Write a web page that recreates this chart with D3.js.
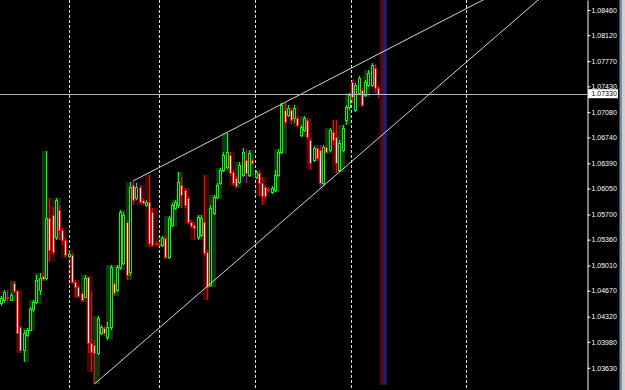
<!DOCTYPE html>
<html>
<meta charset="utf-8">
<head>
<script src="https://d3js.org/d3.v7.min.js"></script>
<title>eurusd channel</title>
<style>
html, body {
	margin: 0;
	padding: 0;
	background: #000;
}
svg {
	display: block;
}
</style>
</head>
<body>
	<svg id="chart"></svg>
<script>
var width = 625;
var height = 390;
var plotRight = 587;

// bars, oldest first
var open = [1.04505,1.04545,1.04586,1.04545,1.04775,1.04667,1.04181,1.03870,1.04073,1.04140,
	1.04424,1.04518,1.04680,1.04869,1.04842,1.05652,1.05693,1.05396,1.05760,1.05490,
	1.05355,1.05139,1.05153,1.04788,1.04721,1.04640,1.04586,1.04856,1.03965,1.03938,
	1.03830,1.04100,1.04167,1.04046,1.04181,1.04775,1.04680,1.04991,1.05045,1.05598,
	1.04923,1.06098,1.05922,1.06071,1.05895,1.05828,1.05868,1.05733,1.05315,1.05301,
	1.05288,1.05382,1.05126,1.05558,1.05787,1.05828,1.06098,1.06030,1.05922,1.05598,
	1.05558,1.05396,1.05423,1.05598,1.05193,1.04748,1.05720,1.05936,1.06125,1.06300,
	1.06341,1.06503,1.06273,1.06192,1.06138,1.06233,1.06435,1.06233,1.06435,1.06206,
	1.06260,1.06125,1.06071,1.06044,1.06003,1.06030,1.06233,1.06543,1.07110,1.07043,
	1.07110,1.07002,1.07002,1.06773,1.06840,1.06975,1.06705,1.06435,1.06597,1.06570,
	1.06125,1.06611,1.06570,1.06813,1.06746,1.06300,1.06570,1.06975,1.07151,1.07488,
	1.07110,1.07340,1.07380,1.07313,1.07448,1.07448,1.07677,1.07407];
var high = [1.04599,1.04680,1.04680,1.04640,1.04802,1.04680,1.04194,1.04140,1.04167,1.04451,
	1.04545,1.04883,1.04910,1.04923,1.06557,1.05922,1.05801,1.05922,1.05828,1.05517,
	1.05382,1.05220,1.05180,1.04815,1.04748,1.04667,1.04883,1.04869,1.04653,1.04005,
	1.04329,1.04208,1.04194,1.04248,1.05018,1.04815,1.05018,1.05760,1.05733,1.05625,
	1.06138,1.06152,1.06125,1.06098,1.05922,1.05895,1.06233,1.05787,1.05342,1.05328,
	1.05409,1.05409,1.05679,1.05855,1.05895,1.06273,1.06206,1.06057,1.05949,1.05625,
	1.05585,1.05693,1.05693,1.06233,1.05220,1.05828,1.05963,1.06125,1.06327,1.06543,
	1.06800,1.06543,1.06300,1.06219,1.06408,1.06597,1.06570,1.06570,1.06462,1.06300,
	1.06300,1.06206,1.06098,1.06071,1.06084,1.06300,1.06584,1.07205,1.07205,1.07178,
	1.07137,1.07178,1.07029,1.06908,1.07029,1.07002,1.06732,1.06624,1.06638,1.06638,
	1.06638,1.06638,1.06867,1.06975,1.06975,1.06705,1.06908,1.07178,1.07340,1.07515,
	1.07475,1.07569,1.07407,1.07515,1.07650,1.07745,1.07731,1.07434];
var low = [1.04464,1.04505,1.04518,1.04532,1.04640,1.04086,1.03830,1.03708,1.04046,1.04127,
	1.04383,1.04491,1.04613,1.04802,1.04815,1.05058,1.05153,1.05355,1.05355,1.05288,
	1.05112,1.05112,1.04761,1.04586,1.04572,1.04518,1.04572,1.03830,1.03573,1.03411,
	1.03803,1.04073,1.04059,1.04005,1.04140,1.04599,1.04653,1.04950,1.05018,1.04815,
	1.04869,1.05828,1.05895,1.05841,1.05828,1.05801,1.05261,1.05261,1.05274,1.05274,
	1.05261,1.05099,1.05099,1.05531,1.05760,1.05787,1.05787,1.05787,1.05571,1.05517,
	1.05355,1.05355,1.05396,1.05139,1.04545,1.04721,1.05693,1.05909,1.06098,1.06273,
	1.06314,1.06219,1.06084,1.06057,1.06111,1.06206,1.06125,1.06206,1.06368,1.06179,
	1.05949,1.05828,1.05909,1.06003,1.05976,1.06003,1.06206,1.06516,1.06908,1.07016,
	1.06921,1.06935,1.06881,1.06746,1.06813,1.06705,1.06300,1.06408,1.06422,1.06071,
	1.06098,1.06516,1.06543,1.06638,1.06260,1.06273,1.06543,1.06908,1.07110,1.07205,
	1.07083,1.07313,1.07151,1.07286,1.07421,1.07421,1.07340,1.07272];
var close = [1.04572,1.04653,1.04572,1.04613,1.04667,1.04100,1.03870,1.04100,1.04140,1.04424,
	1.04518,1.04815,1.04842,1.04829,1.05652,1.05220,1.05193,1.05895,1.05490,1.05355,
	1.05153,1.05166,1.04788,1.04721,1.04599,1.04545,1.04842,1.03965,1.03843,1.03830,
	1.04302,1.04181,1.04100,1.04181,1.04991,1.04640,1.04991,1.05733,1.05693,1.04883,
	1.06071,1.05895,1.06071,1.05868,1.05855,1.05868,1.05315,1.05288,1.05301,1.05288,
	1.05382,1.05126,1.05652,1.05828,1.05868,1.06138,1.05963,1.05828,1.05598,1.05544,
	1.05517,1.05666,1.05652,1.05180,1.04721,1.05787,1.05936,1.06098,1.06300,1.06503,
	1.06543,1.06260,1.06125,1.06084,1.06368,1.06543,1.06260,1.06530,1.06395,1.06273,
	1.06125,1.05949,1.05949,1.06030,1.06057,1.06233,1.06543,1.07178,1.06948,1.07137,
	1.06975,1.07137,1.06908,1.06881,1.07002,1.06746,1.06395,1.06597,1.06462,1.06125,
	1.06611,1.06543,1.06840,1.06705,1.06395,1.06665,1.06867,1.07151,1.07313,1.07286,
	1.07448,1.07542,1.07178,1.07488,1.07610,1.07718,1.07407,1.07330];

var priceTicks = ["1.08460","1.08120","1.07770","1.07430","1.07080","1.06740","1.06390","1.06050",
	"1.05700","1.05360","1.05010","1.04670","1.04320","1.03980","1.03630"];
var lastPrice = 1.07330;

// period separators and the shifted future zone, in bar units
var separators = [21, 48.9, 78.8, 108.5, 144.2];
var futureBand = [117.3, 119.8];

// trend lines: two anchors each [bar, price], drawn as rays
var upperLine = [[41, 1.06152], [109, 1.07682]];
var lowerLine = [[29, 1.03411], [117, 1.06724]];

var x = d3.scaleLinear().domain([0, open.length - 1]).range([1, 378]);
var y = d3.scaleLinear().domain([1.08595, 1.03330]).range([0, height]);

function px(i) { return Math.round(x(i)) + 0.5; }

var svg = d3.select("#chart")
	.attr("width", width)
	.attr("height", height)
	.style("font-family", "'Liberation Sans', Arial, sans-serif");

svg.append("rect").attr("width", width).attr("height", height).attr("fill", "#000");

var defs = svg.append("defs");
defs.append("clipPath").attr("id", "plot")
	.append("rect").attr("width", plotRight).attr("height", height);

var grad = defs.append("linearGradient").attr("id", "band")
	.attr("x1", "0%").attr("x2", "100%").attr("y1", "0%").attr("y2", "0%");
[["0%", "#1c0408"], ["30%", "#4a0c1c"], ["55%", "#48103c"], ["78%", "#2a1a86"], ["100%", "#12104a"]]
	.forEach(function(s) {
		grad.append("stop").attr("offset", s[0]).attr("stop-color", s[1]);
	});

var plot = svg.append("g").attr("clip-path", "url(#plot)");

// faint two-bar blocks behind the candles
var blocks = d3.range(-1, open.length, 2).map(function(s) {
	var ids = [s, s + 1].filter(function(i) { return i >= 0 && i < open.length; });
	var a = ids[0], b = ids[ids.length - 1];
	var net = close[b] - open[a];
	return {
		a: a, b: b,
		hi: d3.max(ids, function(i) { return high[i]; }),
		lo: d3.min(ids, function(i) { return low[i]; }),
		kind: Math.abs(net) < 0.0008 ? "flat" : (net > 0 ? "up" : "down")
	};
});
var blockColor = {up: "#103810", down: "#3c0909", flat: "#0d0d4a"};

plot.append("g").selectAll("rect")
	.data(blocks)
	.enter().append("rect")
		.attr("x", function(d) { return px(d.a) - 1.5; })
		.attr("width", function(d) { return px(d.b) - px(d.a) + 3; })
		.attr("y", function(d) { return y(d.hi); })
		.attr("height", function(d) { return y(d.lo) - y(d.hi); })
		.attr("fill", function(d) { return blockColor[d.kind]; });

// period separators
plot.append("g").selectAll("line")
	.data(separators)
	.enter().append("line")
		.attr("x1", function(d) { return Math.round(x(d)) + 0.5; })
		.attr("x2", function(d) { return Math.round(x(d)) + 0.5; })
		.attr("y1", 0)
		.attr("y2", height)
		.attr("stroke", "#dcdcdc")
		.attr("stroke-dasharray", "3,2");

// shifted zone after the last bar
plot.append("rect")
	.attr("x", x(futureBand[0]))
	.attr("width", x(futureBand[1]) - x(futureBand[0]))
	.attr("y", 0)
	.attr("height", y(1.03400))
	.attr("fill", "url(#band)");

// candles
var bars = d3.range(open.length).map(function(i) {
	return {i: i, o: open[i], h: high[i], l: low[i], c: close[i], up: close[i] >= open[i]};
});

var candle = plot.append("g").selectAll("g")
	.data(bars)
	.enter().append("g");

candle.append("line")
	.attr("x1", function(d) { return px(d.i); })
	.attr("x2", function(d) { return px(d.i); })
	.attr("y1", function(d) { return Math.round(y(d.h)); })
	.attr("y2", function(d) { return Math.round(y(d.l)); })
	.attr("stroke", function(d) { return d.up ? "#00ff00" : "#ff0000"; });

candle.append("rect")
	.attr("x", function(d) { return px(d.i) - 1; })
	.attr("width", 2)
	.attr("y", function(d) { return Math.round(y(Math.max(d.o, d.c))) + 0.5; })
	.attr("height", function(d) { return Math.max(1, Math.round(Math.abs(y(d.o) - y(d.c)))); })
	.attr("fill", function(d) { return d.up ? "#000" : "#ffffff"; })
	.attr("stroke", function(d) { return d.up ? "#00ff00" : "#ff0000"; });

// trend lines
function ray(a) {
	var x1 = x(a[0][0]), y1 = y(a[0][1]);
	var k = (y(a[1][1]) - y1) / (x(a[1][0]) - x1);
	return [x1, y1, plotRight, y1 + k * (plotRight - x1)];
}
plot.append("g").selectAll("line")
	.data([upperLine, lowerLine].map(ray))
	.enter().append("line")
		.attr("x1", function(d) { return d[0]; })
		.attr("y1", function(d) { return d[1]; })
		.attr("x2", function(d) { return d[2]; })
		.attr("y2", function(d) { return d[3]; })
		.attr("stroke", "#d4d4d4");

// bid line
plot.append("line")
	.attr("x1", 0).attr("x2", plotRight)
	.attr("y1", Math.round(y(lastPrice)) + 0.5)
	.attr("y2", Math.round(y(lastPrice)) + 0.5)
	.attr("stroke", "#b8b8b8");

// price axis
var axis = svg.append("g")
	.attr("transform", "translate(" + (plotRight + 0.5) + ",0)")
	.call(d3.axisRight(y)
		.tickValues(priceTicks.map(Number))
		.tickFormat(d3.format(".5f"))
		.tickSize(3)
		.tickPadding(1)
		.tickSizeOuter(0));
axis.select(".domain").attr("stroke", "#ffffff");
axis.selectAll(".tick line").attr("stroke", "#ffffff");
axis.selectAll(".tick text")
	.attr("fill", "#ffffff")
	.style("font-size", "7px");

// current price label
var lp = svg.append("g").attr("transform", "translate(" + (plotRight + 1) + "," + y(lastPrice) + ")");
lp.append("rect")
	.attr("x", 0).attr("y", -4.5)
	.attr("width", 30).attr("height", 9)
	.attr("fill", "#ffffff");
lp.append("text")
	.attr("x", 3.5).attr("dy", "0.35em")
	.attr("fill", "#000")
	.style("font-size", "7px")
	.text(d3.format(".5f")(lastPrice));

// window edge
svg.append("rect").attr("x", 619.5).attr("width", 2).attr("height", height).attr("fill", "#6f8fc7");
svg.append("rect").attr("x", 621.5).attr("width", 3.5).attr("height", height).attr("fill", "#d4d0c8");
</script>
</body>
</html>
